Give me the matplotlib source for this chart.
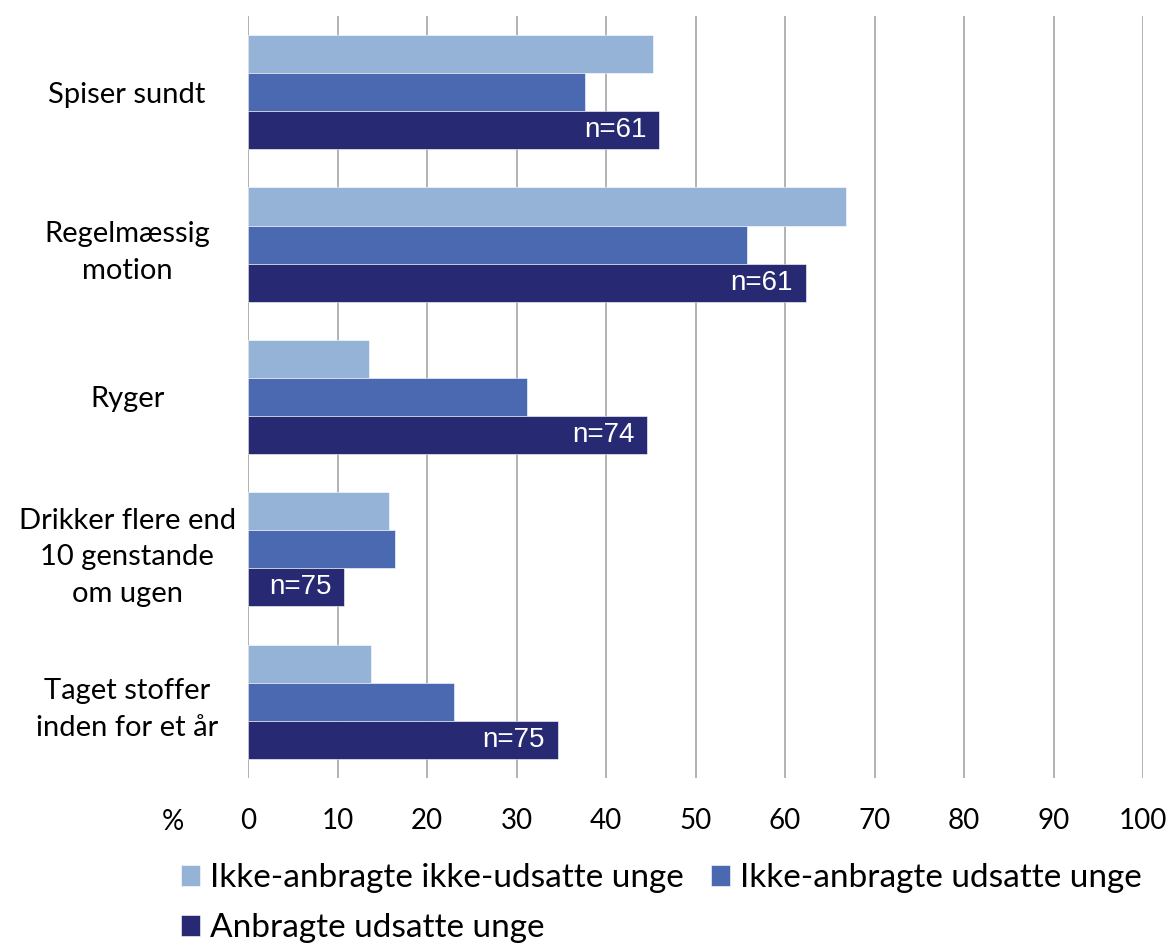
import numpy as np
import matplotlib
matplotlib.use("Agg")
import matplotlib.pyplot as plt

# data
categories = ["Spiser sundt", "Regelmæssig\nmotion", "Ryger",
              "Drikker flere end\n10 genstande\nom ugen", "Taget stoffer\ninden for et år"]
series_names = ["Ikke-anbragte ikke-udsatte unge", "Ikke-anbragte udsatte unge",
                "Anbragte udsatte unge"]
ikke_ikke = [45.2, 66.8, 13.5, 15.7, 13.7]
ikke_udsatte = [37.7, 55.7, 31.2, 16.4, 23.0]
anbragte = [45.9, 62.3, 44.6, 10.7, 34.6]
n_labels = ["n=61", "n=61", "n=74", "n=75", "n=75"]
xticks = list(range(0, 101, 10))

colors = ["#95B3D7", "#4A69B0", "#272A72"]
label_font = "Lato"

fig = plt.figure(figsize=(11.71, 9.44), dpi=100)
ax = fig.add_axes([0.2118, 0.176, 0.7644, 0.807])

y = np.arange(len(categories))
h = 0.25
bars = []
for i, vals in enumerate([ikke_ikke, ikke_udsatte, anbragte]):
    b = ax.barh(y + (i - 1) * h, vals, height=h, color=colors[i],
                edgecolor="white", linewidth=0.4, label=series_names[i], zorder=3)
    bars.append(b)

# n labels inside the dark bars
for rect, txt in zip(bars[2], n_labels):
    ax.text(rect.get_width() - 1.4, rect.get_y() + rect.get_height() / 2, txt,
            ha="right", va="center", color="white", fontsize=20,
            family="Liberation Sans", zorder=4)

ax.set_xlim(0, 100)
ax.set_ylim(len(categories) - 0.5, -0.5)
ax.set_xticks(xticks)
ax.set_xticklabels([str(t) for t in xticks], family=label_font, fontsize=20)
ax.set_yticks(y)
ax.set_yticklabels(categories, family=label_font, fontsize=21, ha="center",
                   linespacing=1.5)
ax.tick_params(axis="y", length=0, pad=87)
ax.tick_params(axis="x", length=0, pad=22)
ax.grid(axis="x", color="#A6A6A6", linewidth=1.2, zorder=0)
for s in ax.spines.values():
    s.set_visible(False)

fig.text(173 / 1171, 1 - 822 / 944, "%", ha="center", va="center",
         family=label_font, fontsize=20)

handles, labels = ax.get_legend_handles_labels()
order = [0, 2, 1]
fig.legend([handles[i] for i in order], [labels[i] for i in order],
           loc="upper left", bbox_to_anchor=(181 / 1171, 1 - 863 / 944),
           ncol=2, frameon=False, prop={"family": label_font, "size": 24},
           handlelength=0.58, handleheight=0.58, handletextpad=0.3,
           columnspacing=0.8, labelspacing=0.6, borderaxespad=0, borderpad=0)

fig.savefig("out.png", dpi=100)
